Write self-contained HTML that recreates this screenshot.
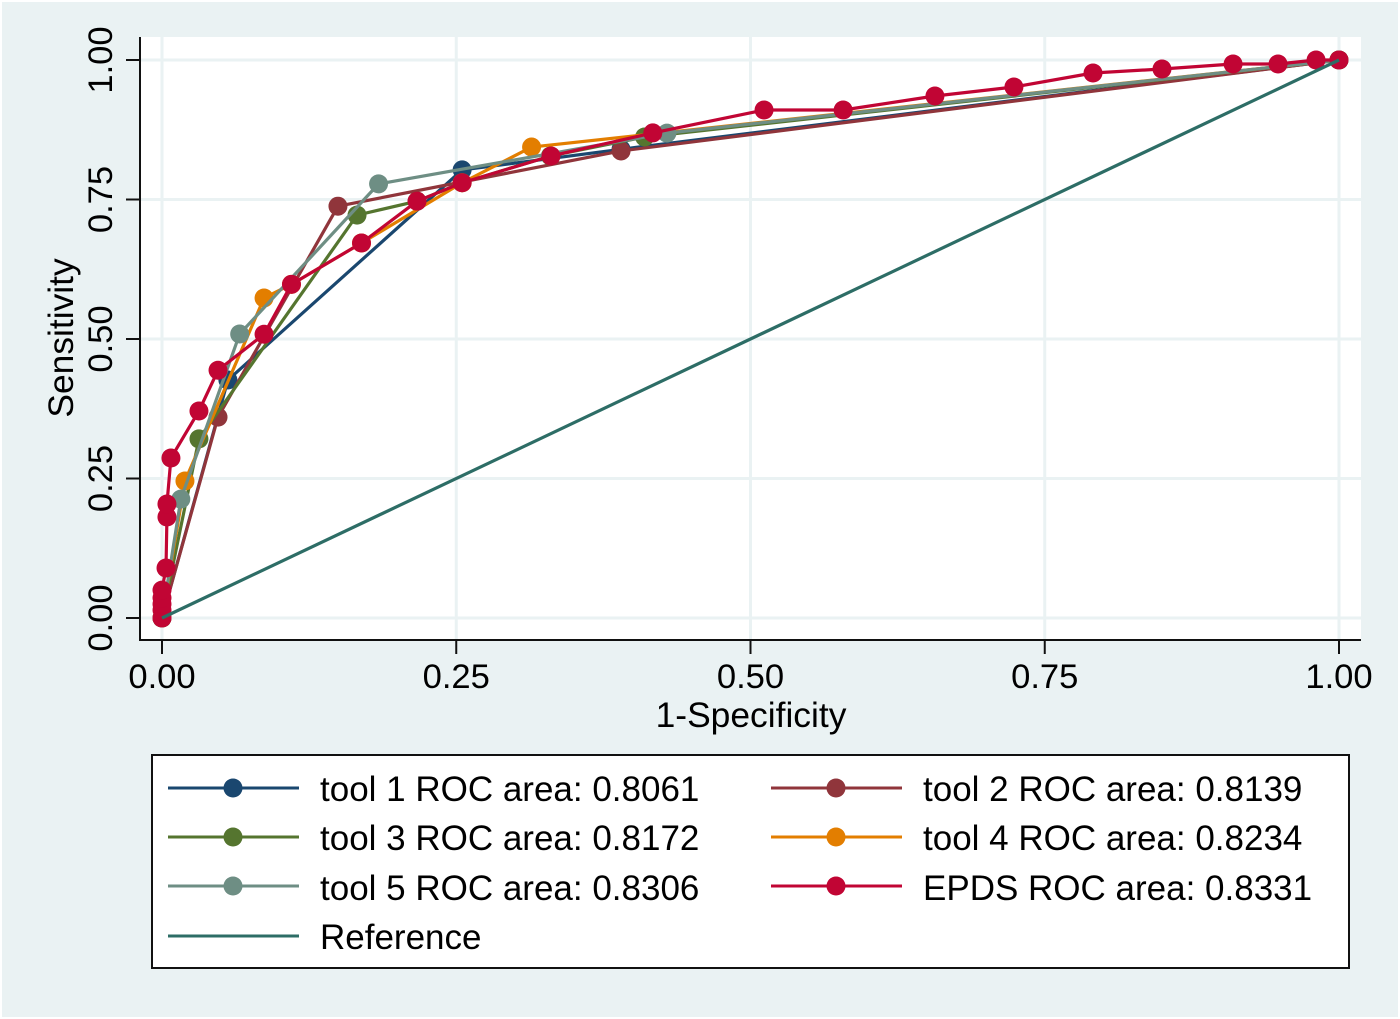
<!DOCTYPE html>
<html>
<head>
<meta charset="utf-8">
<title>ROC curves</title>
<style>
html,body{margin:0;padding:0;background:#fff;}
svg{display:block;}
text{font-family:"Liberation Sans",Arial,sans-serif;fill:#000;}
</style>
</head>
<body>
<svg id="chart" width="1400" height="1019" viewBox="0 0 1400 1019" xmlns="http://www.w3.org/2000/svg">
  <rect x="2" y="2" width="1396" height="1015" fill="#eaf2f3"/>
  <rect x="140" y="37" width="1221" height="603" fill="#ffffff"/>
  <g id="grid"></g>
  <g id="series"></g>
  <g id="axes">
    <line x1="140" y1="37" x2="140" y2="641" stroke="#111" stroke-width="2"/>
    <line x1="139" y1="640" x2="1361" y2="640" stroke="#111" stroke-width="2"/>
  </g>
  <text x="751" y="727" font-size="35.4" text-anchor="middle">1-Specificity</text>
  <text transform="translate(73,338) rotate(-90)" font-size="35.4" text-anchor="middle">Sensitivity</text>

  <g>
    <rect x="152" y="755" width="1197" height="213" fill="#ffffff" stroke="#111" stroke-width="2"/>

    <g>
      <line x1="168" y1="788" x2="299" y2="788" stroke="#1a476f" stroke-width="3"/>
      <circle cx="233" cy="788" r="9.5" fill="#1a476f"/>
      <text x="320" y="801" font-size="35">tool 1 ROC area: 0.8061</text>
    </g>
    <g>
      <line x1="771" y1="788" x2="902" y2="788" stroke="#90353b" stroke-width="3"/>
      <circle cx="836" cy="788" r="9.5" fill="#90353b"/>
      <text x="923" y="801" font-size="35">tool 2 ROC area: 0.8139</text>
    </g>
    <g>
      <line x1="168" y1="837" x2="299" y2="837" stroke="#55752f" stroke-width="3"/>
      <circle cx="233" cy="837" r="9.5" fill="#55752f"/>
      <text x="320" y="850" font-size="35">tool 3 ROC area: 0.8172</text>
    </g>
    <g>
      <line x1="771" y1="837" x2="902" y2="837" stroke="#e37e00" stroke-width="3"/>
      <circle cx="836" cy="837" r="9.5" fill="#e37e00"/>
      <text x="923" y="850" font-size="35">tool 4 ROC area: 0.8234</text>
    </g>
    <g>
      <line x1="168" y1="886" x2="299" y2="886" stroke="#6e8e84" stroke-width="3"/>
      <circle cx="233" cy="886" r="9.5" fill="#6e8e84"/>
      <text x="320" y="900" font-size="35">tool 5 ROC area: 0.8306</text>
    </g>
    <g>
      <line x1="771" y1="886" x2="902" y2="886" stroke="#c10534" stroke-width="3"/>
      <circle cx="836" cy="886" r="9.5" fill="#c10534"/>
      <text x="923" y="900" font-size="35">EPDS ROC area: 0.8331</text>
    </g>
    <g>
      <line x1="168" y1="936" x2="299" y2="936" stroke="#2d6d66" stroke-width="3"/>
      <text x="320" y="949" font-size="35">Reference</text>
    </g>
  </g>
</svg>
<script>
var tickValues = [0, 0.25, 0.5, 0.75, 1];
var tickLabels = ["0.00", "0.25", "0.50", "0.75", "1.00"];

var tool1X = [0, 0.056, 0.255, 0.39, 1];
var tool1Y = [0, 0.4265, 0.803, 0.84, 1];

var tool2X = [0, 0.0476, 0.1495, 0.39, 1];
var tool2Y = [0, 0.36, 0.738, 0.837, 1];

var tool3X = [0, 0.0314, 0.1657, 0.2167, 0.255, 0.33, 0.41, 1];
var tool3Y = [0, 0.321, 0.722, 0.747, 0.78, 0.828, 0.862, 1];

var tool4X = [0, 0.0195, 0.0867, 0.11, 0.1695, 0.255, 0.314, 1];
var tool4Y = [0, 0.2455, 0.5735, 0.598, 0.672, 0.78, 0.844, 1];

var tool5X = [0, 0.016, 0.066, 0.184, 0.429, 1];
var tool5Y = [0, 0.213, 0.509, 0.778, 0.869, 1];

var epdsX = [0, 0, 0, 0, 0, 0.0034, 0.0042, 0.0042, 0.0076, 0.0314, 0.0476, 0.0867, 0.11, 0.1695, 0.2167, 0.255, 0.3305, 0.417, 0.5115, 0.5787, 0.6567, 0.7238, 0.791, 0.8496, 0.91, 0.9482, 0.9805, 1];
var epdsY = [0, 0.0143, 0.025, 0.036, 0.05, 0.0896, 0.181, 0.2043, 0.2867, 0.371, 0.444, 0.5085, 0.598, 0.672, 0.747, 0.78, 0.828, 0.8693, 0.9104, 0.9104, 0.9355, 0.9516, 0.9767, 0.9839, 0.9928, 0.9928, 1, 1];

var referenceX = [0, 1];
var referenceY = [0, 1];

var NS = "http://www.w3.org/2000/svg";
function xScale(v) { return 162 + v * 1177; }
function yScale(v) { return 618 - v * 558; }

var gridLayer = document.getElementById("grid");
var axesLayer = document.getElementById("axes");
var seriesLayer = document.getElementById("series");

function makeLine(x1, y1, x2, y2, color, width) {
  var el = document.createElementNS(NS, "line");
  el.setAttribute("x1", x1);
  el.setAttribute("y1", y1);
  el.setAttribute("x2", x2);
  el.setAttribute("y2", y2);
  el.setAttribute("stroke", color);
  el.setAttribute("stroke-width", width);
  return el;
}

tickValues.forEach(function (v, i) {
  var gx = makeLine(xScale(v), 37, xScale(v), 640, "#eaf2f3", 3);
  
  
  gridLayer.appendChild(gx);

  var gy = makeLine(140, yScale(v), 1361, yScale(v), "#eaf2f3", 3);
  
  
  gridLayer.appendChild(gy);

  var tx = makeLine(xScale(v), 640, xScale(v), 654, "#111", 2);
  
  
  axesLayer.appendChild(tx);

  var ty = makeLine(126, yScale(v), 140, yScale(v), "#111", 2);
  
  
  axesLayer.appendChild(ty);

  var lx = document.createElementNS(NS, "text");
  
  
  lx.setAttribute("x", xScale(v));
  lx.setAttribute("y", 688);
  lx.setAttribute("font-size", "34.6");
  lx.setAttribute("text-anchor", "middle");
  lx.textContent = tickLabels[i];
  axesLayer.appendChild(lx);

  var ly = document.createElementNS(NS, "text");
  
  
  ly.setAttribute("transform", "translate(112," + yScale(v) + ") rotate(-90)");
  ly.setAttribute("font-size", "34.6");
  ly.setAttribute("text-anchor", "middle");
  ly.textContent = tickLabels[i];
  axesLayer.appendChild(ly);
});

function drawSeries(name, xs, ys, color, showMarkers) {
  var group = document.createElementNS(NS, "g");
  
  

  var pts = xs.map(function (x, i) { return xScale(x) + "," + yScale(ys[i]); }).join(" ");
  var line = document.createElementNS(NS, "polyline");
  
  
  line.setAttribute("points", pts);
  line.setAttribute("fill", "none");
  line.setAttribute("stroke", color);
  line.setAttribute("stroke-width", "3.2");
  line.setAttribute("stroke-linejoin", "round");
  group.appendChild(line);

  if (showMarkers) {
    xs.forEach(function (x, i) {
      var dot = document.createElementNS(NS, "circle");
      
      
      dot.setAttribute("cx", xScale(x));
      dot.setAttribute("cy", yScale(ys[i]));
      dot.setAttribute("r", "9.5");
      dot.setAttribute("fill", color);
      group.appendChild(dot);
    });
  }
  seriesLayer.appendChild(group);
}

drawSeries("series-tool-1", tool1X, tool1Y, "#1a476f", true);
drawSeries("series-tool-2", tool2X, tool2Y, "#90353b", true);
drawSeries("series-tool-3", tool3X, tool3Y, "#55752f", true);
drawSeries("series-tool-4", tool4X, tool4Y, "#e37e00", true);
drawSeries("series-tool-5", tool5X, tool5Y, "#6e8e84", true);
drawSeries("series-epds", epdsX, epdsY, "#c10534", true);
drawSeries("series-reference", referenceX, referenceY, "#2d6d66", false);
</script>
</body>
</html>
